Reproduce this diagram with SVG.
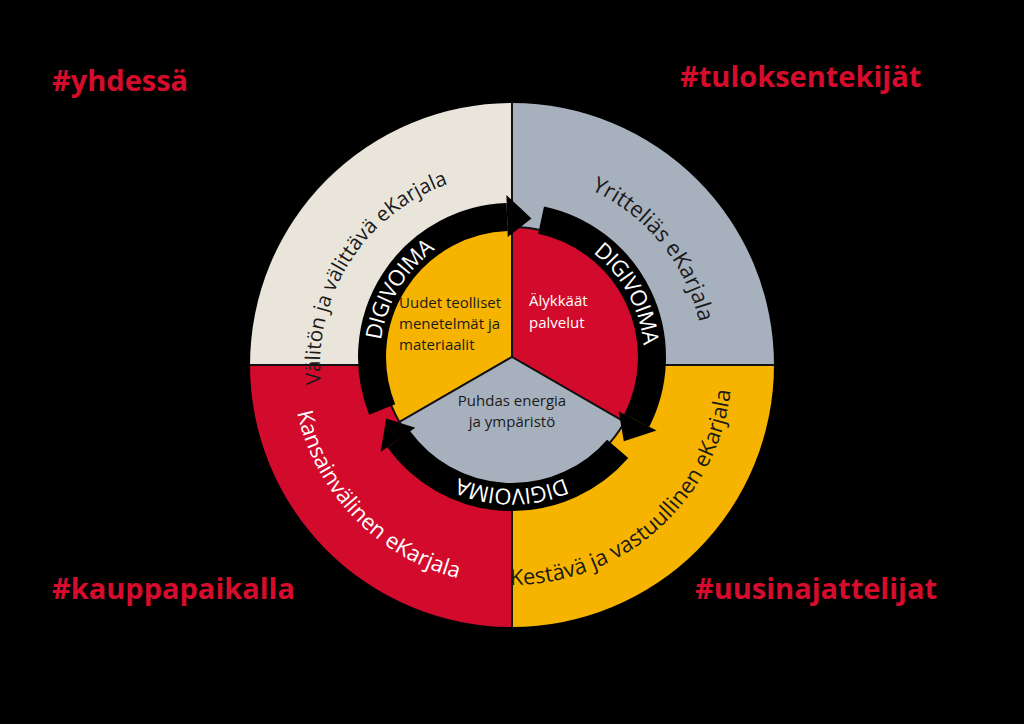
<svg xmlns="http://www.w3.org/2000/svg" width="1024" height="724" viewBox="0 0 1024 724">
<style>
.hash{font-family:"Open Sans","Liberation Sans",sans-serif;font-weight:bold;font-size:29px;fill:#d50c2b}
.outer{font-family:"Open Sans","Liberation Sans",sans-serif;font-size:22px}
.digi{font-family:"Open Sans","Liberation Sans",sans-serif;font-size:22px;fill:#fff}
.inner{font-family:"Open Sans","Liberation Sans",sans-serif;font-size:15px;fill:#1a1a1a}
.ring{fill:none;stroke:#000;stroke-width:28}
</style>
<defs>
<path id="cw" d="M 512 173 A 192 192 0 1 1 512 557 A 192 192 0 1 1 512 173"/>
<path id="ccw" d="M 512 145 A 220 220 0 1 0 512 585 A 220 220 0 1 0 512 145"/>
<path id="icw" d="M 512 217 A 140 140 0 1 1 512 497 A 140 140 0 1 1 512 217"/>
</defs>
<rect width="1024" height="724" fill="#000"/>
<g id="hashtags">
<text class="hash" x="52" y="91">#yhdessä</text>
<text class="hash" x="680" y="87">#tuloksentekijät</text>
<text class="hash" x="52" y="599">#kauppapaikalla</text>
<text class="hash" x="695" y="599">#uusinajattelijat</text>
</g>
<g id="outer-ring">
<path d="M512 365 L250 365 A262 262 0 0 1 512 103 Z" fill="#e9e5da"/>
<path d="M512 365 L512 103 A262 262 0 0 1 774 365 Z" fill="#a7b1bd"/>
<path d="M512 365 L774 365 A262 262 0 0 1 512 627 Z" fill="#f6b400"/>
<path d="M512 365 L512 627 A262 262 0 0 1 250 365 Z" fill="#d20b2d"/>
<line x1="512" y1="103" x2="512" y2="627" stroke="#111" stroke-width="2"/>
<line x1="250" y1="365" x2="774" y2="365" stroke="#111" stroke-width="2"/>
<text class="outer" fill="#1a1a1a" style="font-size:20.5px"><textPath href="#cw" startOffset="1013" text-anchor="middle">Välitön ja välittävä eKarjala</textPath></text>
<text class="outer" fill="#1a1a1a"><textPath href="#cw" startOffset="170" text-anchor="middle">Yritteliäs eKarjala</textPath></text>
<text class="outer" fill="#1a1a1a"><textPath href="#ccw" startOffset="850" text-anchor="middle">Kestävä ja vastuullinen eKarjala</textPath></text>
<text class="outer" fill="#fff"><textPath href="#ccw" startOffset="515" text-anchor="middle">Kansainvälinen eKarjala</textPath></text>
</g>
<g id="inner-pie">
<path d="M512 357 L399.4 422 A130 130 0 0 1 512 227 Z" fill="#f6b400" stroke="#111" stroke-width="2"/>
<path d="M512 357 L512 227 A130 130 0 0 1 624.6 422 Z" fill="#d20b2d" stroke="#111" stroke-width="2"/>
<path d="M512 357 L624.6 422 A130 130 0 0 1 399.4 422 Z" fill="#a7b1bd" stroke="#111" stroke-width="2"/>
<text class="inner" x="399" y="308">Uudet teolliset</text>
<text class="inner" x="399" y="329">menetelmät ja</text>
<text class="inner" x="399" y="350">materiaalit</text>
<text class="inner" x="529" y="306" style="fill:#fff">Älykkäät</text>
<text class="inner" x="529" y="328" style="fill:#fff">palvelut</text>
<text class="inner" x="512" y="406" text-anchor="middle">Puhdas energia</text>
<text class="inner" x="512" y="427" text-anchor="middle">ja ympäristö</text>
</g>
<g id="connectors">
<path class="ring" d="M 382.2 409.4 A 140 140 0 0 1 507.1 217.1"/>
<polygon points="507.7,237.1 506.4,195.1 531.5,218.4"/>
<path class="ring" d="M 541.1 220.1 A 140 140 0 0 1 636.7 420.6"/>
<polygon points="618.7,411.4 656.6,430.6 623.8,441.3"/>
<path class="ring" d="M 617.7 448.9 A 140 140 0 0 1 398.7 439.3"/>
<polygon points="415.3,427.7 380.6,452 386.2,418.4"/>
<text class="digi" dy="8"><textPath href="#icw" startOffset="735" text-anchor="middle">DIGIVOIMA</textPath></text>
<text class="digi" dy="8"><textPath href="#icw" startOffset="150" text-anchor="middle">DIGIVOIMA</textPath></text>
<text class="digi" dy="8"><textPath href="#icw" startOffset="440" text-anchor="middle">DIGIVOIMA</textPath></text>
</g>
</svg>
